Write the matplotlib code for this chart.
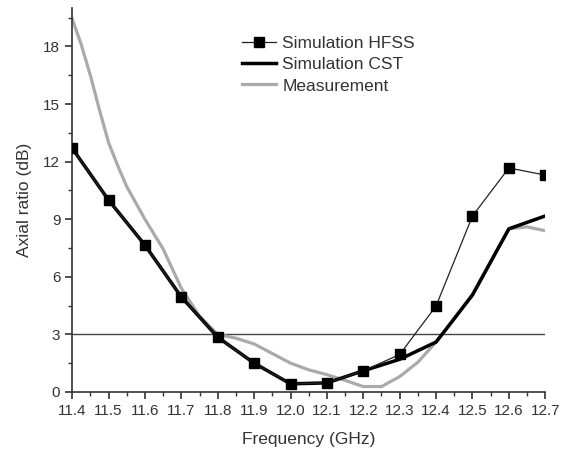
import matplotlib.pyplot as plt
from matplotlib.ticker import MultipleLocator

plt.rcParams['font.family'] = ['Liberation Sans', 'DejaVu Sans']

# Frequency grid for the simulations (GHz)
freq_sim = [11.4, 11.5, 11.6, 11.7, 11.8, 11.9, 12.0, 12.1, 12.2, 12.3, 12.4, 12.5, 12.6, 12.7]
ar_hfss = [12.7, 10.0, 7.65, 4.95, 2.85, 1.5, 0.42, 0.47, 1.1, 1.95, 4.48, 9.17, 11.67, 11.3]
ar_cst = [12.7, 10.0, 7.65, 4.95, 2.85, 1.5, 0.42, 0.47, 1.1, 1.7, 2.6, 5.05, 8.5, 9.17]

# Measurement (finer grid)
freq_meas = [11.4, 11.425, 11.45, 11.475, 11.5, 11.525, 11.55, 11.6, 11.65, 11.7, 11.75,
             11.8, 11.85, 11.9, 11.95, 12.0, 12.05, 12.1, 12.15, 12.2, 12.25, 12.3,
             12.35, 12.4, 12.45, 12.5, 12.55, 12.6, 12.65, 12.7]
ar_meas = [19.45, 18.1, 16.5, 14.7, 13.0, 11.8, 10.7, 9.0, 7.45, 5.4, 3.95,
           3.0, 2.8, 2.5, 2.0, 1.5, 1.15, 0.9, 0.6, 0.28, 0.28, 0.8,
           1.55, 2.6, 3.8, 5.1, 6.8, 8.5, 8.6, 8.4]

threshold = 3

fig = plt.figure(figsize=(5.68, 4.51), dpi=100)
ax = fig.add_axes([0.127, 0.131, 0.833, 0.851])

# 3 dB reference line
ax.axhline(threshold, color='#444444', lw=1.0, zorder=1)
ax.plot(freq_meas, ar_meas, color='#aaaaaa', lw=2.3, label='Measurement', zorder=2)
ax.plot(freq_sim, ar_cst, color='black', lw=2.5, label='Simulation CST', zorder=3)
ax.plot(freq_sim, ar_hfss, color='#222222', lw=0.9, marker='s', ms=7.5,
        mfc='black', mec='black', label='Simulation HFSS', zorder=4)

ax.set_xlim(11.4, 12.7)
ax.set_ylim(0, 20)
ax.xaxis.set_major_locator(MultipleLocator(0.1))
ax.xaxis.set_minor_locator(MultipleLocator(0.05))
ax.yaxis.set_major_locator(MultipleLocator(3))
ax.yaxis.set_minor_locator(MultipleLocator(1.5))
ax.set_xticklabels([f"{v:.1f}" for v in ax.get_xticks()])

for s in ['top', 'right']:
    ax.spines[s].set_visible(False)
for s in ['left', 'bottom']:
    ax.spines[s].set_color('#333333')
    ax.spines[s].set_linewidth(1.2)

ax.tick_params(which='major', length=5, width=1.2, color='#333333',
               labelsize=11, labelcolor='#333333')
ax.tick_params(which='minor', length=3, width=1.0, color='#333333')

ax.set_xlabel('Frequency (GHz)', fontsize=12.5, color='#333333', labelpad=10)
ax.set_ylabel('Axial ratio (dB)', fontsize=12.5, color='#333333', labelpad=8)

# Legend: HFSS, CST, Measurement
handles, labels = ax.get_legend_handles_labels()
order = [2, 1, 0]
ax.legend([handles[i] for i in order], [labels[i] for i in order],
          loc='upper left', bbox_to_anchor=(0.398, 0.955), bbox_transform=fig.transFigure,
          frameon=False, fontsize=12.5, handlelength=2.0, handletextpad=0.35,
          labelspacing=0.35, labelcolor='#333333')

fig.savefig('out.png', dpi=100)
